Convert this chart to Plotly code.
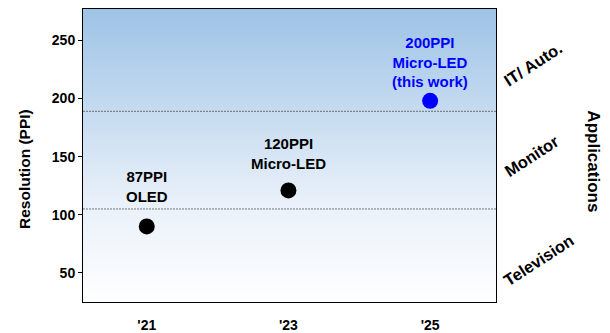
import plotly.graph_objects as go

years = [2021, 2023, 2025]
year_labels = ["'21", "'23", "'25"]
ppi = [90, 121, 198]
point_colors = ["black", "black", "#0000FF"]
point_labels = ["87PPI<br>OLED", "120PPI<br>Micro-LED", "200PPI<br>Micro-LED<br>(this work)"]
label_offsets = [40, 37, 39]

boundaries = [105, 189]
app_names = ["Television", "Monitor", "IT/ Auto."]
app_y = [61, 151, 230]

y_ticks = [50, 100, 150, 200, 250]
x_range = [2020.1, 2025.93]
y_range = [25, 277]

FONT = "Liberation Sans, Arial, sans-serif"


def f(size, color="black"):
    return dict(family=FONT, size=size, color=color, weight="bold")


fig = go.Figure()

# gradient background
fig.add_trace(go.Scatter(
    x=[x_range[0], x_range[1], x_range[1], x_range[0], x_range[0]],
    y=[y_range[0], y_range[0], y_range[1], y_range[1], y_range[0]],
    mode="lines", line=dict(width=0), fill="toself",
    fillgradient=dict(type="vertical", colorscale=[[0, "#FFFFFF"], [0.35, "#E8F0F9"], [1, "#9DC3E6"]]),
    hoverinfo="skip", showlegend=False,
))

for b in boundaries:
    fig.add_shape(type="line", xref="paper", x0=0, x1=1, y0=b, y1=b,
                  line=dict(color="#555555", width=0.8, dash="2px,1px"))

fig.add_trace(go.Scatter(
    x=years, y=ppi, mode="markers",
    marker=dict(size=16, color=point_colors),
    showlegend=False, hoverinfo="skip",
))

for x, y, t, c, off in zip(years, ppi, point_labels, point_colors, label_offsets):
    fig.add_annotation(x=x, y=y, text=t, showarrow=False, yshift=off,
                       yanchor="middle", font=f(15, c), align="center")

for name, yy in zip(app_names, app_y):
    fig.add_annotation(x=1.0, xref="paper", y=yy, yref="y", text=name, showarrow=False,
                       textangle=-33, xanchor="left", xshift=2, font=f(16.5))

fig.add_annotation(x=1.0, xref="paper", y=0.48, yref="paper", text="Applications",
                   showarrow=False, textangle=90, xanchor="center", xshift=98, font=f(17))

fig.add_annotation(x=0, xref="paper", y=0.454, yref="paper", text="Resolution (PPI)",
                   showarrow=False, textangle=-90, xanchor="center", xshift=-58, font=f(15.5))

fig.update_layout(
    width=610, height=333,
    margin=dict(l=83, r=114, t=9, b=31, autoexpand=False),
    paper_bgcolor="white", plot_bgcolor="white",
    font=f(14),
    hovermode=False,
    xaxis=dict(range=x_range, tickvals=years, ticktext=year_labels, ticks="",
               showgrid=False, zeroline=False, showline=True, linecolor="black",
               linewidth=1, mirror=True, ticklabelstandoff=10, automargin=False,
               tickfont=f(14)),
    yaxis=dict(range=y_range, tickvals=y_ticks, ticks="outside", ticklen=4,
               tickcolor="black", showgrid=False, zeroline=False, showline=True,
               linecolor="black", linewidth=1, mirror=True, automargin=False,
               tickfont=f(14)),
)

fig.write_html("out.html", config={"displayModeBar": False},
               post_script="document.body.style.margin='0';document.body.style.padding='0';")
